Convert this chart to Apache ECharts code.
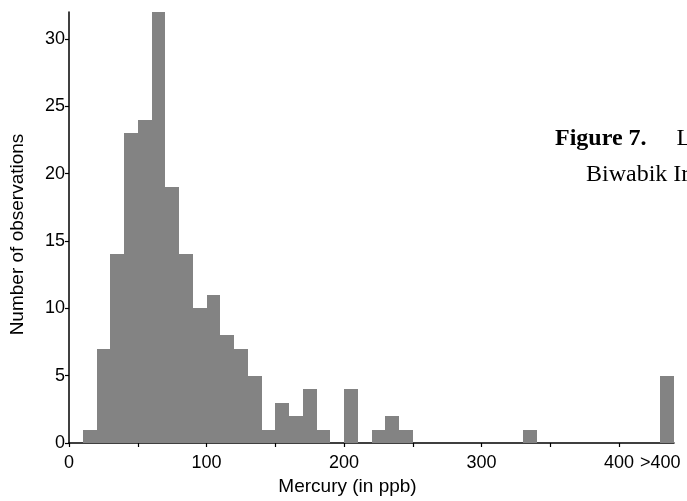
<!DOCTYPE html>
<html>
<head>
<meta charset="utf-8">
<script src="https://cdn.jsdelivr.net/npm/echarts@6/dist/echarts.min.js"></script>
<style>
  html, body { margin: 0; padding: 0; background: #fff; }
  #chart { width: 687px; height: 501px; }
</style>
</head>
<body>
<div id="chart"></div>
<script>
// lower edge of each 10 ppb bin that has observations (430 = the ">400" bin)
const binStart = [10, 20, 30, 40, 50, 60, 70, 80, 90, 100, 110, 120, 130, 140, 150, 160, 170, 180, 200, 220, 230, 240, 330, 430];
const counts   = [1, 7, 14, 23, 24, 32, 19, 14, 10, 11, 8, 7, 5, 1, 3, 2, 4, 1, 4, 1, 2, 1, 1, 5];
const binWidth = 10;

const xTicks = [0, 50, 100, 150, 200, 250, 300, 350, 400];
const xLabelValues = [0, 100, 200, 300, 400, 430];
const xLabelText = ['0', '100', '200', '300', '400', '>400'];
const yTicks = [0, 5, 10, 15, 20, 25, 30];

const axisFont = 'Liberation Sans, Arial, sans-serif';
const captionFont = 'Liberation Serif, serif';

let chart = echarts.init(document.getElementById('chart'), null, { renderer: 'canvas' });

let option = {
  backgroundColor: '#fff',
  animation: false,
  grid: { left: 69, right: 13, top: 12, bottom: 55 },
  xAxis: {
    type: 'value',
    min: 0,
    max: 440,
    splitLine: { show: false },
    axisLine: { lineStyle: { color: '#000', width: 1.5 } },
    axisTick: { show: true, length: 4, customValues: xTicks, lineStyle: { color: '#000', width: 1.2 } },
    axisLabel: {
      customValues: xLabelValues,
      formatter: v => xLabelText[xLabelValues.indexOf(v)],
      color: '#000', fontSize: 18, fontFamily: axisFont, margin: 11
    },
    name: 'Mercury (in ppb)',
    nameLocation: 'middle',
    nameGap: 34,
    nameTextStyle: { color: '#000', fontSize: 19, fontFamily: axisFont, padding: [0, 48, 0, 0] }
  },
  yAxis: {
    type: 'value',
    min: 0,
    max: 32,
    splitLine: { show: false },
    axisLine: { show: true, lineStyle: { color: '#000', width: 1.5 } },
    axisTick: { show: true, length: 4, customValues: yTicks, lineStyle: { color: '#000', width: 1.2 } },
    axisLabel: {
      customValues: yTicks,
      color: '#000', fontSize: 18, fontFamily: axisFont, margin: 4
    },
    name: 'Number of observations',
    nameLocation: 'middle',
    nameRotate: 90,
    nameGap: 42,
    nameTextStyle: { color: '#000', fontSize: 19, fontFamily: axisFont, padding: [0, 14, 0, 0] }
  },
  series: [{
    type: 'custom',
    data: binStart.map((s, i) => [s, s + binWidth, counts[i]]),
    encode: { x: [0, 1], y: 2 },
    renderItem: function (params, api) {
      let p0 = api.coord([api.value(0), 0]);
      let p1 = api.coord([api.value(1), api.value(2)]);
      // snap to whole pixels so neighbouring bins join without a seam
      let x0 = Math.round(p0[0]), x1 = Math.round(p1[0]);
      let yTop = Math.round(p1[1]), yBot = Math.round(p0[1]);
      return {
        type: 'rect',
        shape: { x: x0, y: yTop, width: x1 - x0, height: yBot - yTop },
        style: { fill: '#838383' }
      };
    }
  }],
  graphic: [
    {
      type: 'text', left: 555, top: 127,
      style: {
        text: '{b|Figure 7.}     Levels of mercury in',
        rich: { b: { fontWeight: 'bold', fontSize: 24, fontFamily: captionFont, fill: '#000' } },
        fontSize: 24, fontFamily: captionFont, fill: '#000'
      }
    },
    {
      type: 'text', left: 586, top: 163,
      style: { text: 'Biwabik Iron Formation', fontSize: 24, fontFamily: captionFont, fill: '#000' }
    }
  ]
};
chart.setOption(option);
</script>
</body>
</html>
